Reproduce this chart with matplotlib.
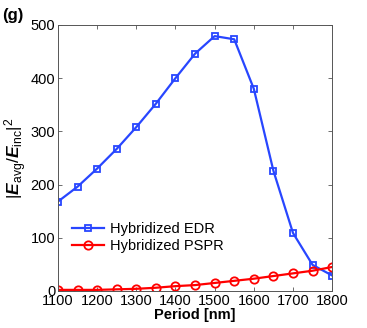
import matplotlib as mpl
mpl.use("Agg")
import matplotlib.pyplot as plt

mpl.rcParams.update({
    "font.family": "sans-serif",
    "font.sans-serif": ["Liberation Sans", "DejaVu Sans"],
    "font.size": 10.5,
    "mathtext.fontset": "custom",
    "mathtext.rm": "Liberation Sans",
    "mathtext.it": "Liberation Sans:italic",
    "mathtext.bf": "Liberation Sans:bold",
    "mathtext.bfit": "Liberation Sans:bold:italic",
})

period = [1100, 1150, 1200, 1250, 1300, 1350, 1400, 1450, 1500, 1550, 1600, 1650, 1700, 1750, 1800]
edr = [168, 196, 230, 267, 308, 352, 400, 446, 479, 473, 380, 226, 109, 49, 29]
pspr = [2, 2, 2, 3, 4, 6, 9, 11, 15, 19, 23, 28, 33, 38, 45]

fig = plt.figure(figsize=(3.67, 3.28), dpi=100)
ax = fig.add_axes([0.158, 0.113, 0.747, 0.811])

ax.plot(period, edr, color="#2846ff", lw=1.6, marker="s", ms=5, mfc="none",
        mew=1.3, label="Hybridized EDR")
ax.plot(period, pspr, color="#ff0000", lw=1.6, marker="o", ms=6, mfc="none",
        mew=1.3, label="Hybridized PSPR")

ax.set_xlim(1100, 1800)
ax.set_ylim(0, 500)
ax.set_xticks(range(1100, 1801, 100))
ax.set_yticks(range(0, 501, 100))
ax.tick_params(direction="in", top=True, right=True, length=3, width=0.6,
               color="#555555", pad=2)
for s in ax.spines.values():
    s.set_color("#555555")
    s.set_linewidth(0.7)

ax.set_xlabel("Period [nm]", fontweight="bold", labelpad=0)
ax.set_ylabel(r"$|\mathbfit{E}_{\rm avg}/\mathbfit{E}_{\rm inc}|^2$",
              fontsize=12.5, labelpad=1)

ax.legend(loc="center left", bbox_to_anchor=(0.03, 0.2), frameon=False,
          handlelength=2.2, handletextpad=0.4, labelspacing=0.2, borderaxespad=0)

fig.text(0.005, 0.952, "(g)", fontweight="bold", fontsize=12, va="center")

fig.savefig("out.png", dpi=100)
